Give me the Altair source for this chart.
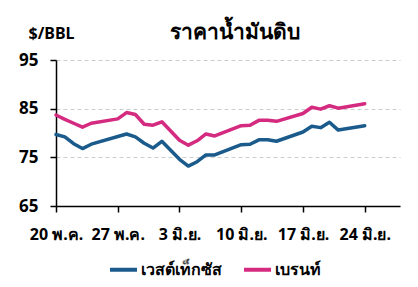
import altair as alt
import pandas as pd

dates = ["2024-05-20", "2024-05-21", "2024-05-22", "2024-05-23", "2024-05-24", "2024-05-27",
         "2024-05-28", "2024-05-29", "2024-05-30", "2024-05-31", "2024-06-01", "2024-06-03",
         "2024-06-04", "2024-06-05", "2024-06-06", "2024-06-07", "2024-06-10", "2024-06-11",
         "2024-06-12", "2024-06-13", "2024-06-14", "2024-06-17", "2024-06-18", "2024-06-19",
         "2024-06-20", "2024-06-21", "2024-06-24"]
wti = [79.7, 79.2, 77.8, 76.8, 77.7, None,
       79.8, 79.2, 77.9, 76.9, 78.3, 74.6,
       73.2, 74.1, 75.5, 75.5, 77.6, 77.7,
       78.6, 78.6, 78.3, 80.2, 81.4, 81.1,
       82.2, 80.6, 81.5]
brent = [83.7, 82.8, 82.0, 81.2, 82.0, 82.9,
         84.2, 83.8, 81.8, 81.6, 82.3, 78.5,
         77.5, 78.4, 79.8, 79.4, 81.5, 81.6,
         82.6, 82.6, 82.4, 84.0, 85.3, 84.9,
         85.6, 85.1, 86.0]
series_names = ["เวสต์เท็กซัส", "เบรนท์"]
colors = ["#1a5b8c", "#d42a7f"]

rows = []
for name, vals in zip(series_names, [wti, brent]):
    for d, v in zip(dates, vals):
        if v is not None:
            rows.append({"date": d, "price": v, "series": name})
df = pd.DataFrame(rows)

FONT = "Noto Sans"

tick_dates = [alt.DateTime(year=2024, month=5, date=20, utc=True),
              alt.DateTime(year=2024, month=5, date=27, utc=True),
              alt.DateTime(year=2024, month=6, date=3, utc=True),
              alt.DateTime(year=2024, month=6, date=10, utc=True),
              alt.DateTime(year=2024, month=6, date=17, utc=True),
              alt.DateTime(year=2024, month=6, date=24, utc=True)]

chart = alt.Chart(df).mark_line(strokeWidth=3.5, strokeJoin="round", strokeCap="round").encode(
    x=alt.X("date:T",
            scale=alt.Scale(type="utc",
                            domain=[alt.DateTime(year=2024, month=5, date=20, utc=True),
                                    alt.DateTime(year=2024, month=6, date=28, utc=True)]),
            axis=alt.Axis(values=tick_dates, title=None, grid=False,
                          labelExpr="utcdate(datum.value) + (utcmonth(datum.value) == 4 ? ' พ.ค.' : ' มิ.ย.')",
                          tickSize=6, labelPadding=14, labelFontSize=16, labelFontWeight="bold",
                          labelColor="black", domainColor="black", tickColor="black",
                          domainWidth=1.5, tickWidth=1.5, labelFlush=False)),
    y=alt.Y("price:Q",
            scale=alt.Scale(domain=[65, 95], nice=False, zero=False),
            axis=alt.Axis(values=[65, 75, 85, 95], title="$/BBL", titleAngle=0,
                          titleAlign="left", titleBaseline="middle", titleX=-28, titleY=-27,
                          titleFontSize=16, titleFontWeight="bold", titleColor="black",
                          tickSize=6, labelPadding=12, labelFontSize=17, labelFontWeight="bold",
                          labelColor="black", domainColor="black", tickColor="black",
                          domainWidth=1.5, tickWidth=1.5,
                          grid=True, gridDash=[4, 3], gridColor="#cccccc", gridWidth=1)),
    color=alt.Color("series:N", sort=series_names,
                    scale=alt.Scale(domain=series_names, range=colors),
                    legend=alt.Legend(title=None, orient="none", direction="horizontal",
                                      legendX=52, legendY=194,
                                      symbolType="stroke", symbolSize=729, symbolStrokeWidth=4,
                                      labelFontSize=16, labelFontWeight="bold", labelColor="black",
                                      labelOffset=2, columnPadding=14)),
).properties(
    width=344, height=146,
    title=alt.TitleParams("ราคาน้ำมันดิบ", fontSize=21, fontWeight="bold", color="black",
                          anchor="middle", offset=-18, dx=7),
    autosize=alt.AutoSizeParams(type="none"),
    padding={"left": 56, "top": 60, "right": 18, "bottom": 81},
).configure(font=FONT).configure_view(stroke=None)

chart.save("out.html", embed_options={"renderer": "svg", "actions": False})
